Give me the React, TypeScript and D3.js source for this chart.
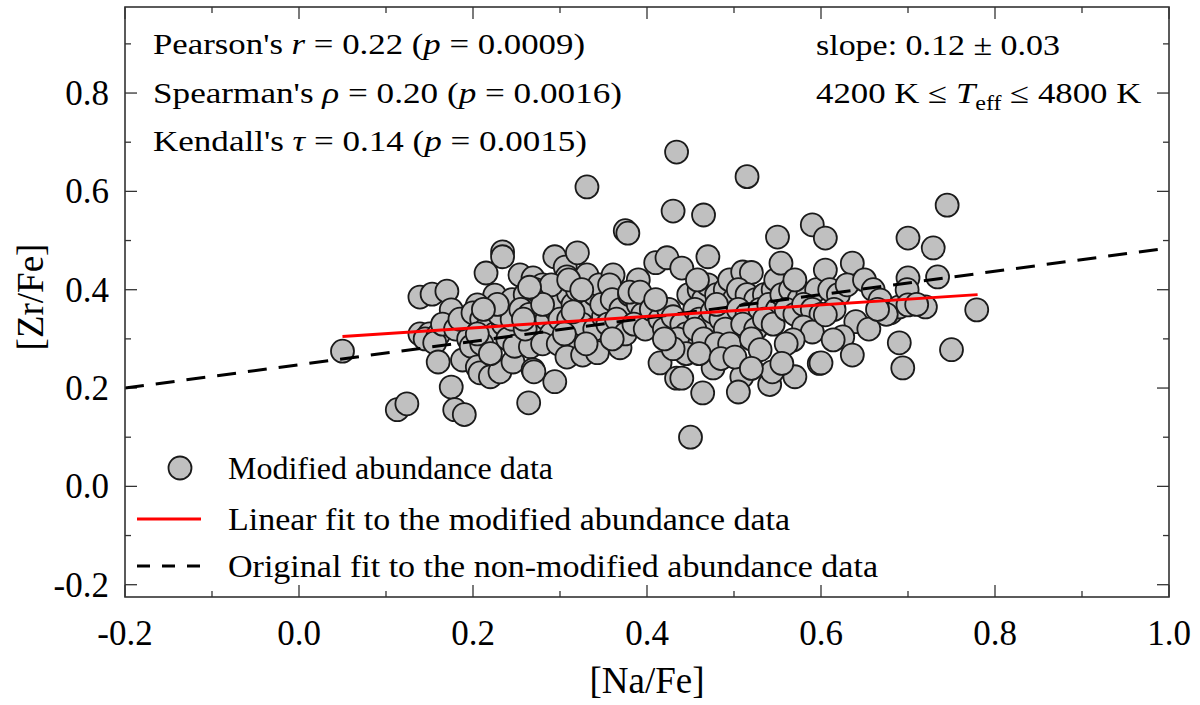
import React, { useEffect, useRef } from 'react';
import * as d3 from 'd3';

// [Na/Fe] vs [Zr/Fe]
const naFe: number[] = [
  0.05,
  0.113, 0.124, 0.139, 0.139, 0.15, 0.145,
  0.153, 0.17, 0.175, 0.16, 0.156, 0.16, 0.175, 0.179, 0.19, 0.188, 0.165, 0.18, 0.195, 0.185, 0.198,
  0.205, 0.208, 0.22, 0.231, 0.246, 0.215, 0.234, 0.234, 0.225, 0.205, 0.2, 0.21, 0.215, 0.225, 0.235, 0.24, 0.245, 0.21, 0.22, 0.23, 0.24, 0.205, 0.245, 0.228, 0.212, 0.248,
  0.254, 0.269, 0.28, 0.266, 0.269, 0.264, 0.294, 0.27, 0.294, 0.26, 0.27, 0.28, 0.29, 0.255, 0.265, 0.275, 0.285, 0.295, 0.26, 0.29, 0.3, 0.28, 0.298, 0.272, 0.258, 0.3,
  0.306, 0.308, 0.32, 0.331, 0.331, 0.32, 0.308, 0.326, 0.343, 0.31, 0.315, 0.32, 0.33, 0.335, 0.34, 0.345, 0.31, 0.325, 0.34, 0.35, 0.305, 0.33, 0.348, 0.315,
  0.361, 0.357, 0.375, 0.378, 0.39, 0.369, 0.36, 0.37, 0.38, 0.39, 0.395, 0.355, 0.365, 0.375, 0.385, 0.398, 0.36, 0.38, 0.392,
  0.41, 0.423, 0.434, 0.43, 0.44, 0.415, 0.434, 0.45, 0.405, 0.415, 0.42, 0.425, 0.43, 0.44, 0.445, 0.41, 0.435, 0.445, 0.43, 0.448, 0.42,
  0.465, 0.47, 0.464, 0.476, 0.46, 0.465, 0.47, 0.48, 0.49, 0.495, 0.455, 0.46, 0.47, 0.475, 0.485, 0.49, 0.455, 0.465, 0.48, 0.495, 0.46, 0.485, 0.5, 0.458, 0.48, 0.44,
  0.515, 0.55, 0.509, 0.505, 0.541, 0.544, 0.51, 0.52, 0.505, 0.515, 0.525, 0.535, 0.545, 0.505, 0.515, 0.53, 0.54, 0.55, 0.51, 0.525, 0.535, 0.545, 0.52, 0.53, 0.501, 0.52, 0.548, 0.554,
  0.59, 0.57, 0.555, 0.565, 0.575, 0.585, 0.595, 0.56, 0.57, 0.58, 0.59, 0.6, 0.58, 0.59, 0.568, 0.56, 0.555, 0.57, 0.598,
  0.605, 0.605, 0.636, 0.61, 0.62, 0.63, 0.65, 0.615, 0.64, 0.655, 0.625, 0.614, 0.636, 0.6, 0.605,
  0.69, 0.694, 0.7, 0.7, 0.66, 0.668, 0.68, 0.69, 0.699, 0.675, 0.665,
  0.729, 0.734, 0.745, 0.75, 0.779, 0.72, 0.70, 0.71,
  0.29, 0.31, 0.325, 0.28, 0.265,
];

const zrFe: number[] = [
  0.275,
  0.156, 0.168, 0.385, 0.31, 0.31, 0.30,
  0.391, 0.397, 0.359, 0.308, 0.292, 0.253, 0.202, 0.156, 0.146, 0.257, 0.33, 0.32, 0.30, 0.34, 0.285,
  0.243, 0.231, 0.223, 0.233, 0.253, 0.434, 0.477, 0.467, 0.389, 0.369, 0.353, 0.34, 0.32, 0.31, 0.33, 0.36, 0.38, 0.29, 0.27, 0.35, 0.30, 0.31, 0.34, 0.37, 0.36, 0.285,
  0.43, 0.424, 0.41, 0.284, 0.237, 0.17, 0.213, 0.233, 0.467, 0.39, 0.37, 0.385, 0.395, 0.36, 0.35, 0.33, 0.34, 0.36, 0.32, 0.31, 0.38, 0.29, 0.29, 0.40, 0.34, 0.34,
  0.446, 0.426, 0.475, 0.43, 0.609, 0.302, 0.263, 0.267, 0.272, 0.39, 0.37, 0.40, 0.38, 0.36, 0.39, 0.41, 0.34, 0.33, 0.32, 0.345, 0.31, 0.29, 0.37, 0.355,
  0.43, 0.41, 0.52, 0.515, 0.42, 0.282, 0.38, 0.36, 0.39, 0.37, 0.35, 0.33, 0.34, 0.31, 0.33, 0.32, 0.30, 0.395, 0.395,
  0.455, 0.465, 0.68, 0.56, 0.444, 0.251, 0.22, 0.10, 0.36, 0.34, 0.32, 0.36, 0.345, 0.33, 0.31, 0.38, 0.30, 0.27, 0.28, 0.39, 0.30,
  0.552, 0.467, 0.19, 0.241, 0.40, 0.38, 0.41, 0.39, 0.40, 0.42, 0.36, 0.34, 0.33, 0.355, 0.34, 0.32, 0.32, 0.30, 0.29, 0.29, 0.27, 0.26, 0.38, 0.42, 0.37, 0.22,
  0.63, 0.507, 0.223, 0.192, 0.207, 0.233, 0.436, 0.435, 0.40, 0.39, 0.38, 0.39, 0.40, 0.36, 0.35, 0.36, 0.37, 0.36, 0.33, 0.32, 0.34, 0.33, 0.30, 0.278, 0.263, 0.24, 0.42, 0.454,
  0.532, 0.223, 0.39, 0.40, 0.38, 0.39, 0.40, 0.36, 0.35, 0.37, 0.36, 0.35, 0.324, 0.314, 0.298, 0.29, 0.25, 0.42, 0.25,
  0.505, 0.44, 0.454, 0.40, 0.39, 0.41, 0.42, 0.36, 0.335, 0.32, 0.304, 0.298, 0.267, 0.251, 0.349,
  0.292, 0.241, 0.424, 0.505, 0.40, 0.379, 0.353, 0.365, 0.40, 0.35, 0.36,
  0.485, 0.426, 0.572, 0.278, 0.359, 0.365, 0.369, 0.37,
  0.41, 0.42, 0.40, 0.37, 0.405,
];

// fitted relations: [x, y] end points
const linearFit: [number, number][] = [[0.05, 0.305], [0.78, 0.39]];
const originalFit: [number, number][] = [[-0.2, 0.2], [1.0, 0.485]];

const xTicks = [-0.2, 0.0, 0.2, 0.4, 0.6, 0.8, 1.0];
const yTicks = [-0.2, 0.0, 0.2, 0.4, 0.6, 0.8];

const legendItems = [
  'Modified abundance data',
  'Linear fit to the modified abundance data',
  'Original fit to the non-modified abundance data',
];
const legendWidths = [325, 562, 650];

const FONT = '"Liberation Serif", "Times New Roman", serif';

export default function App() {
  const svgRef = useRef<SVGSVGElement>(null);
  const width = 1200;
  const height = 705;

  useEffect(() => {
    if (!svgRef.current) return;
    const svg = d3.select(svgRef.current);
    svg.selectAll('*').remove();

    const left = 125, right = 1169, top = 7, bottom = 597;
    const x = d3.scaleLinear().domain([-0.2, 1.0]).range([left, right]);
    const y = d3.scaleLinear().domain([-0.225, 0.975]).range([bottom, top]);

    const plotW = right - left;
    const plotH = bottom - top;

    // ticks on all four sides, pointing inwards
    const minorX = d3.range(-0.2, 1.0001, 0.1);
    const minorY = d3.range(-0.2, 0.9001, 0.1);
    const tickGroup = svg.append('g').attr('stroke', '#333').attr('stroke-width', 1.3);
    minorX.forEach((v) => {
      const major = xTicks.some((t) => Math.abs(t - v) < 1e-6);
      const len = major ? 12 : 6;
      tickGroup.append('line').attr('x1', x(v)).attr('x2', x(v)).attr('y1', bottom).attr('y2', bottom - len);
      tickGroup.append('line').attr('x1', x(v)).attr('x2', x(v)).attr('y1', top).attr('y2', top + len);
    });
    minorY.forEach((v) => {
      const major = yTicks.some((t) => Math.abs(t - v) < 1e-6);
      const len = major ? 12 : 6;
      tickGroup.append('line').attr('x1', left).attr('x2', left + len).attr('y1', y(v)).attr('y2', y(v));
      tickGroup.append('line').attr('x1', right).attr('x2', right - len).attr('y1', y(v)).attr('y2', y(v));
    });

    // tick labels
    svg.append('g')
      .selectAll('text')
      .data(xTicks)
      .enter()
      .append('text')
      .attr('x', (d) => x(d))
      .attr('y', 645)
      .attr('text-anchor', 'middle')
      .style('font-family', FONT)
      .style('font-size', '35px')
      .text((d) => d.toFixed(1));

    svg.append('g')
      .selectAll('text')
      .data(yTicks)
      .enter()
      .append('text')
      .attr('x', 109)
      .attr('y', (d) => y(d) + 12)
      .attr('text-anchor', 'end')
      .style('font-family', FONT)
      .style('font-size', '35px')
      .text((d) => d.toFixed(1));

    // axis titles
    svg.append('text')
      .attr('x', left + plotW / 2)
      .attr('y', 693)
      .attr('text-anchor', 'middle')
      .style('font-family', FONT)
      .style('font-size', '37px')
      .text('[Na/Fe]');

    svg.append('text')
      .attr('transform', `translate(43,${top + plotH / 2 - 5}) rotate(-90)`)
      .attr('text-anchor', 'middle')
      .style('font-family', FONT)
      .style('font-size', '37px')
      .text('[Zr/Fe]');

    // data points
    const clip = svg.append('defs').append('clipPath').attr('id', 'plot-clip');
    clip.append('rect').attr('x', left).attr('y', top).attr('width', plotW).attr('height', plotH);

    const points = naFe.map((v, i) => ({ x: v, y: zrFe[i] }));
    svg.append('g')
      .attr('clip-path', 'url(#plot-clip)')
      .selectAll('circle')
      .data(points)
      .enter()
      .append('circle')
      .attr('cx', (d) => x(d.x))
      .attr('cy', (d) => y(d.y))
      .attr('r', 11.5)
      .attr('fill', '#c0c0c0')
      .attr('stroke', '#1a1a1a')
      .attr('stroke-width', 1.8);

    // fits
    const line = d3.line<[number, number]>().x((d) => x(d[0])).y((d) => y(d[1]));
    svg.append('path')
      .datum(originalFit)
      .attr('clip-path', 'url(#plot-clip)')
      .attr('fill', 'none')
      .attr('stroke', '#000')
      .attr('stroke-width', 3)
      .attr('stroke-dasharray', '19,12')
      .attr('d', line);

    svg.append('path')
      .datum(linearFit)
      .attr('fill', 'none')
      .attr('stroke', '#ff0000')
      .attr('stroke-width', 3)
      .attr('d', line);

    // frame
    svg.append('rect')
      .attr('x', left)
      .attr('y', top)
      .attr('width', plotW)
      .attr('height', plotH)
      .attr('fill', 'none')
      .attr('stroke', '#333')
      .attr('stroke-width', 1.6);

    // legend
    const legend = svg.append('g').style('font-family', FONT).style('font-size', '32px');
    const legY = [468, 519, 566];
    legend.append('circle').attr('cx', 180).attr('cy', legY[0]).attr('r', 11.5)
      .attr('fill', '#c0c0c0').attr('stroke', '#1a1a1a').attr('stroke-width', 1.8);
    legend.append('line').attr('x1', 137).attr('x2', 201).attr('y1', legY[1]).attr('y2', legY[1])
      .attr('stroke', '#ff0000').attr('stroke-width', 3);
    legend.append('line').attr('x1', 137).attr('x2', 201).attr('y1', legY[2]).attr('y2', legY[2])
      .attr('stroke', '#000').attr('stroke-width', 3).attr('stroke-dasharray', '13,12');
    legendItems.forEach((label, i) => {
      legend.append('text')
        .attr('x', 228)
        .attr('y', legY[i] + 11)
        .attr('textLength', legendWidths[i])
        .attr('lengthAdjust', 'spacingAndGlyphs')
        .text(label);
    });
  }, []);

  const txt = { fontFamily: FONT, fontSize: 29 } as React.CSSProperties;
  const it = { fontStyle: 'italic' } as React.CSSProperties;

  return (
    <div style={{ position: 'absolute', left: 0, top: 0, width, height, background: '#fff' }}>
      <svg ref={svgRef} width={width} height={height} style={{ position: 'absolute', left: 0, top: 0 }} />
      <svg width={width} height={height} style={{ position: 'absolute', left: 0, top: 0 }}>
        <text x={153} y={54} style={txt} textLength={432} lengthAdjust="spacingAndGlyphs">
          Pearson's <tspan style={it}>r</tspan> = 0.22 (<tspan style={it}>p</tspan> = 0.0009)
        </text>
        <text x={153} y={103} style={txt} textLength={469} lengthAdjust="spacingAndGlyphs">
          Spearman's <tspan style={it}>ρ</tspan> = 0.20 (<tspan style={it}>p</tspan> = 0.0016)
        </text>
        <text x={153} y={151} style={txt} textLength={434} lengthAdjust="spacingAndGlyphs">
          Kendall's <tspan style={it}>τ</tspan> = 0.14 (<tspan style={it}>p</tspan> = 0.0015)
        </text>
        <text x={816} y={55} style={txt} textLength={244} lengthAdjust="spacingAndGlyphs">
          slope: 0.12 ± 0.03
        </text>
        <g transform="translate(816,103) scale(1.2,1)">
          <text x={0} y={0} style={txt}>
            4200 K ≤ <tspan style={it}>T</tspan><tspan dy={7} style={{ fontSize: 20 }}>eff</tspan><tspan dy={-7}> ≤ 4800 K</tspan>
          </text>
        </g>
      </svg>
    </div>
  );
}
